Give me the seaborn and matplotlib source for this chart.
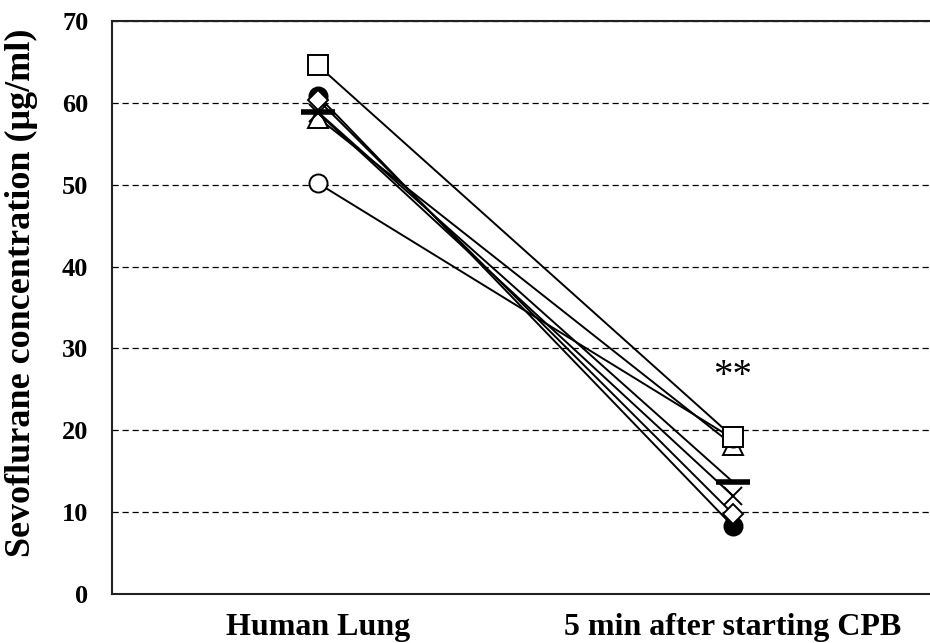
import matplotlib
matplotlib.use("Agg")
import matplotlib.pyplot as plt
import seaborn as sns

# timepoints on the x axis
timepoints = ["Human Lung", "5 min after starting CPB"]

# one entry per patient: marker, face colour, values at the two timepoints
subjects = ["P1", "P2", "P3", "P4", "P5", "P6", "P7"]
markers = ["o", "^", "x", "D", "_", "o", "s"]
facecolors = ["black", "white", "none", "white", "black", "white", "white"]
lung_values = [60.9, 58.2, 58.8, 60.4, 58.9, 50.2, 64.6]
cpb_values = [8.3, 18.2, 12.0, 9.8, 13.7, 19.0, 19.2]

sns.set_theme(style="white")
plt.rcParams['font.family'] = ['Liberation Serif', 'DejaVu Serif']

fig = plt.figure(figsize=(9.3, 6.43), dpi=100)
ax = fig.add_axes([0.1204, 0.0762, 0.8796, 0.891])

sizes = {"o": 13, "^": 14, "x": 13, "D": 10, "_": 24, "s": 14}
for i, s in enumerate(subjects):
    m = markers[i]
    sns.lineplot(x=[0, 1], y=[lung_values[i], cpb_values[i]], ax=ax,
                 color="black", linewidth=1.4, estimator=None,
                 marker=m, markersize=sizes[m], markerfacecolor=facecolors[i],
                 markeredgecolor="black",
                 markeredgewidth=4 if m == "_" else 1.4,
                 zorder=3 + i)

ax.text(1, 26.6, "**", ha="center", va="center", fontsize=28, color="black")

ax.set_xlim(-0.496, 1.475)
ax.set_ylim(0, 70)
ax.set_yticks(range(0, 80, 10))
ax.set_xticks([0, 1])
ax.set_xticklabels(timepoints, fontsize=23, fontweight="bold")
ax.tick_params(axis="both", length=0, colors="black")
ax.tick_params(axis="x", pad=14)
ax.tick_params(axis="y", pad=17, labelsize=19)
for lab in ax.get_yticklabels():
    lab.set_fontweight("bold")

ax.set_ylabel("Sevoflurane concentration (μg/ml)", fontsize=26,
              fontweight="bold", color="black")
ax.yaxis.set_label_coords(-0.09, 0.525)

ax.yaxis.grid(True, color="black", linestyle=(0, (5, 3)), linewidth=0.9)
ax.xaxis.grid(False)
for side in ["left", "top", "bottom"]:
    ax.spines[side].set_color("#222222")
    ax.spines[side].set_linewidth(1.5)
ax.spines["right"].set_visible(False)
ax.set_xlabel("")

fig.savefig("out.png", dpi=100)
